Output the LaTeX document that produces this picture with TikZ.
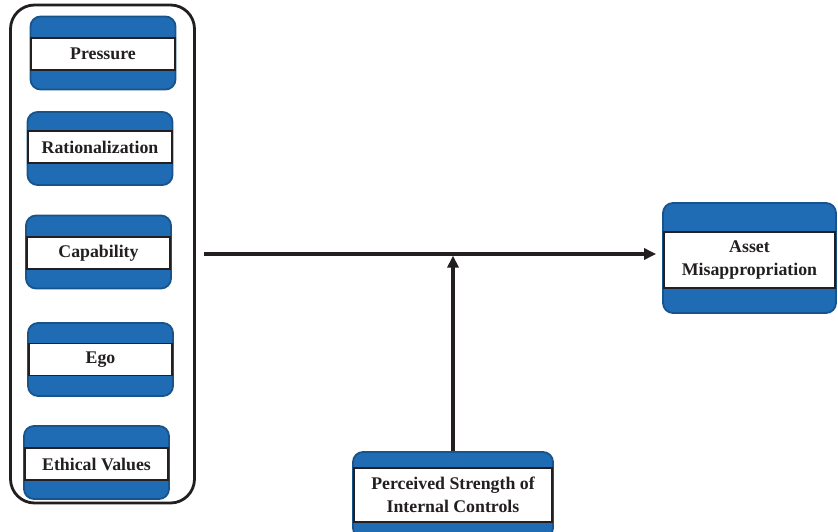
\documentclass[tikz,border=0pt]{standalone}
\usepackage{fontspec}
\setmainfont{Liberation Serif}
\usepackage{tikz}
\usetikzlibrary{arrows.meta,positioning,calc}
\usepackage{xcolor}
\definecolor{boxblue}{RGB}{31,107,180}
\definecolor{boxedge}{RGB}{24,84,140}
\definecolor{inkgray}{RGB}{35,31,32}

\begin{document}
\begin{tikzpicture}[
        x=1pt, y=-1pt,
        factor/.style={rectangle, draw=boxedge, fill=boxblue, rounded corners=10pt,
                       line width=1.8pt, minimum width=145pt, minimum height=73pt},
        band/.style={rectangle, draw=inkgray, fill=white, line width=1.4pt,
                     minimum height=32pt, align=center, text=inkgray,
                     font=\fontsize{17.8}{23.5}\selectfont\bfseries},
        group/.style={rectangle, draw=inkgray, line width=2.8pt, rounded corners=24pt,
                      minimum width=184pt, minimum height=498pt},
        link/.style={draw=inkgray, line width=3.2pt,
                     -{Triangle[length=12pt,width=11pt]}}
      ]
      \useasboundingbox (0,0) rectangle (838,532);

      % independent variables
      \node[group] (drivers) at (102.5,254) {};
      \node[factor] (press) at (103,53) {};
      \node[band, minimum width=144pt] at (103,54) {Pressure};
      \node[factor] (ration) at (100,148.5) {};
      \node[band, minimum width=144pt] at (100,147) {Rationalization};
      \node[factor] (capab) at (98.5,252) {};
      \node[band, minimum width=143pt] at (98.5,253) {Capability};
      \node[factor] (ego) at (100.5,359.5) {};
      \node[band, minimum width=143pt] at (100.5,359.5) {Ego};
      \node[factor] (ethic) at (96.5,462.5) {};
      \node[band, minimum width=143pt] at (96.5,464) {Ethical Values};

      % dependent variable and moderator
      \node[factor, minimum width=173pt, minimum height=110pt] (asset) at (749.5,258) {};
      \node[band, minimum width=171pt, minimum height=56pt] at (749.5,260) {Asset\\Misappropriation};
      \node[factor, minimum width=200pt, minimum height=86pt] (ctrl) at (453,495) {};
      \node[band, minimum width=198pt, minimum height=54pt] at (453,495) {Perceived Strength of\\Internal Controls};

      \coordinate (join) at (ctrl.north |- drivers.east);
      \draw[link, shorten <=8pt, shorten >=6pt] (drivers.east) -- (drivers.east -| asset.west);
      \draw[link, shorten >=1.6pt] (ctrl.north) -- (join);
    \end{tikzpicture}
\end{document}
